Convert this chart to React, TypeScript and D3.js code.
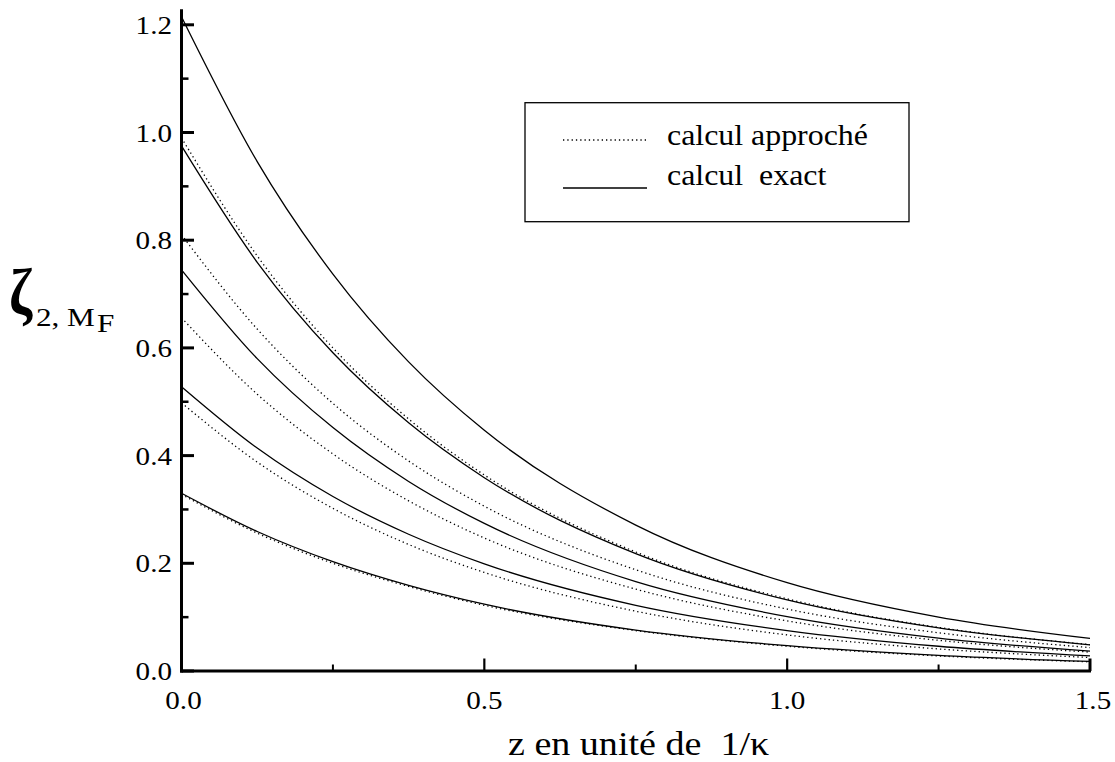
import React from "react";
import * as d3 from "d3";

const zValues = [0, 0.125, 0.25, 0.375, 0.5, 0.75, 1.0, 1.25, 1.5];

const exactSeries = [
  [1.215, 0.946, 0.737, 0.574, 0.447, 0.271, 0.164, 0.1, 0.0605],
  [0.975, 0.759, 0.591, 0.461, 0.359, 0.218, 0.132, 0.08, 0.0486],
  [0.745, 0.58, 0.452, 0.352, 0.274, 0.166, 0.101, 0.061, 0.037],
  [0.528, 0.414, 0.324, 0.254, 0.199, 0.122, 0.075, 0.046, 0.028],
  [0.33, 0.259, 0.203, 0.159, 0.124, 0.076, 0.047, 0.029, 0.0177],
];

const approxSeries = [
  [0.99, 0.771, 0.6, 0.468, 0.364, 0.221, 0.134, 0.081, 0.049],
  [0.81, 0.635, 0.497, 0.39, 0.306, 0.188, 0.115, 0.071, 0.0435],
  [0.656, 0.514, 0.403, 0.316, 0.247, 0.152, 0.093, 0.057, 0.035],
  [0.498, 0.388, 0.302, 0.235, 0.183, 0.111, 0.067, 0.041, 0.025],
  [0.328, 0.256, 0.2, 0.157, 0.122, 0.075, 0.046, 0.028, 0.017],
];

const yMajorTicks = [0, 0.2, 0.4, 0.6, 0.8, 1.0, 1.2];
const yMinorTicks = [0.1, 0.3, 0.5, 0.7, 0.9, 1.1];
const xMajorTicks = [0, 0.5, 1.0, 1.5];
const xMinorTicks = [0.25, 0.75, 1.25];

const legendLabels = ["calcul approché", "calcul  exact"];
const xTitle = "z en unité de  1/κ";

const FONT = '"Liberation Serif", "Times New Roman", serif';

function SText(props: {
  x: number;
  y: number;
  size: number;
  sx?: number;
  anchor?: string;
  weight?: string;
  children: React.ReactNode;
}) {
  const { x, y, size, sx = 1.12, anchor = "start", weight = "normal", children } = props;
  return (
    <text
      transform={`translate(${x},${y}) scale(${sx},1)`}
      fontSize={size}
      fontFamily={FONT}
      fontWeight={weight}
      textAnchor={anchor}
      fill="#000"
      style={{ whiteSpace: "pre" }}
    >
      {children}
    </text>
  );
}

export default function App() {
  const W = 1115;
  const H = 762;
  const x = d3.scaleLinear().domain([0, 1.5]).range([181.5, 1090]);
  const y = d3.scaleLinear().domain([0, 1.2]).range([671, 24.8]);
  const yTop = y(1.2288);

  const line = d3
    .line<number>()
    .x((_, i) => x(zValues[i]))
    .y((d) => y(d))
    .curve(d3.curveMonotoneX);

  return (
    <svg
      width={W}
      height={H}
      style={{ position: "absolute", left: 0, top: 0, background: "#fff" }}
    >
      <rect x={0} y={0} width={W} height={H} fill="#fff" />
      {/* curves */}
      {approxSeries.map((s, i) => (
        <path
          key={"a" + i}
          d={line(s) || ""}
          fill="none"
          stroke="#000"
          strokeWidth={1.3}
          strokeDasharray="1.3 3"
        />
      ))}
      {exactSeries.map((s, i) => (
        <path
          key={"e" + i}
          d={line(s) || ""}
          fill="none"
          stroke="#000"
          strokeWidth={1.3}
        />
      ))}

      {/* axes */}
      <line x1={x(0)} x2={x(0)} y1={yTop} y2={y(0) + 1.5} stroke="#000" strokeWidth={3} />
      <line x1={x(0) - 1.5} x2={x(1.5) + 1} y1={y(0)} y2={y(0)} stroke="#000" strokeWidth={3} />
      {yMajorTicks.map((t) => (
        <line key={"ym" + t} x1={x(0)} x2={x(0) + 12.5} y1={y(t)} y2={y(t)} stroke="#000" strokeWidth={3} />
      ))}
      {yMinorTicks.map((t) => (
        <line key={"yn" + t} x1={x(0)} x2={x(0) + 7} y1={y(t)} y2={y(t)} stroke="#000" strokeWidth={2.5} />
      ))}
      {xMajorTicks.map((t) => (
        <line key={"xm" + t} x1={x(t)} x2={x(t)} y1={y(0)} y2={y(0) - 12.5} stroke="#000" strokeWidth={t === 1.5 ? 3 : 2.2} />
      ))}
      {xMinorTicks.map((t) => (
        <line key={"xn" + t} x1={x(t)} x2={x(t)} y1={y(0)} y2={y(0) - 6.5} stroke="#000" strokeWidth={2} />
      ))}

      {/* tick labels */}
      {yMajorTicks.map((t) => (
        <SText key={"yl" + t} x={172} y={y(t) + 9} size={26} anchor="end">
          {t.toFixed(1)}
        </SText>
      ))}
      {xMajorTicks.map((t) => (
        <SText key={"xl" + t} x={x(t) + (t === 0 ? 2 : t === 1.5 ? 3 : 0)} y={709} size={26} anchor="middle">
          {t.toFixed(1)}
        </SText>
      ))}

      {/* axis titles */}
      <SText x={508} y={755} size={34} sx={1.12}>
        {xTitle}
      </SText>
      <SText x={9} y={314} size={66} sx={0.85} weight="bold">
        ζ
      </SText>
      <SText x={36} y={326} size={26} sx={1.2}>
        2,
      </SText>
      <SText x={67} y={326} size={26} sx={1.2}>
        M
      </SText>
      <SText x={97} y={332} size={26} sx={1.2}>
        F
      </SText>

      {/* legend */}
      <rect x={525} y={102.7} width={384} height={119} fill="none" stroke="#000" strokeWidth={1.3} />
      <line x1={563} x2={647} y1={140} y2={140} stroke="#000" strokeWidth={1.3} strokeDasharray="1.3 3" />
      <line x1={563} x2={647} y1={188} y2={188} stroke="#000" strokeWidth={1.3} />
      <SText x={667} y={144.5} size={29} sx={1.1}>
        {legendLabels[0]}
      </SText>
      <SText x={667} y={185} size={29} sx={1.1}>
        {legendLabels[1]}
      </SText>
    </svg>
  );
}
